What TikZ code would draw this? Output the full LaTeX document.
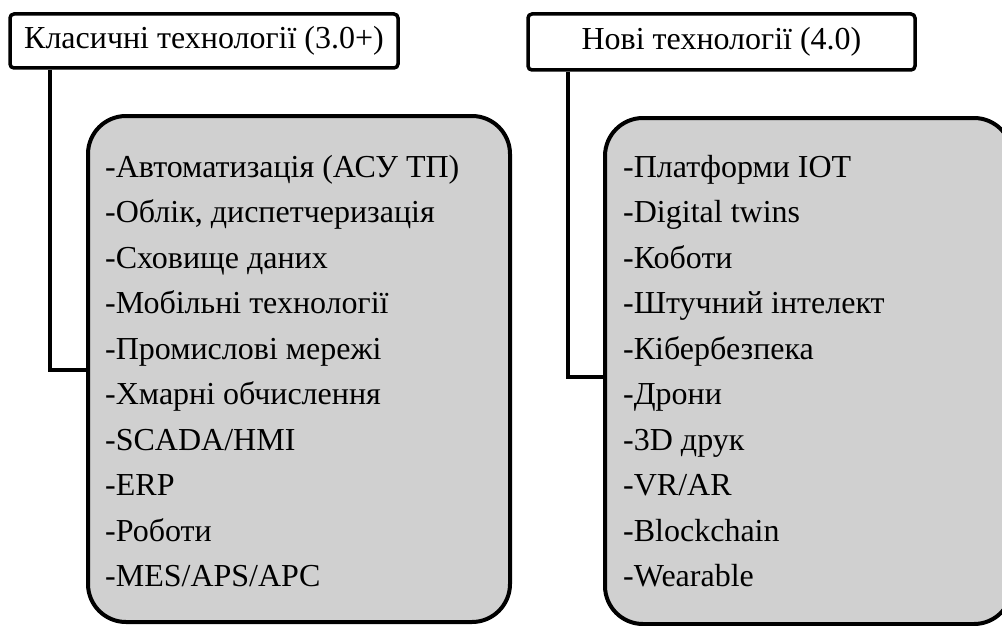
\documentclass[tikz,border=0pt]{standalone}
\usepackage{fontspec}
\setmainfont{Liberation Serif}
\definecolor{boxgray}{RGB}{208,208,208}
\begin{document}
\begin{tikzpicture}[x=1pt, y=-1pt,
    head/.style={draw, line width=3.5pt, rounded corners=4pt, fill=white,
      inner sep=0pt, font=\fontsize{32}{38}\selectfont},
    techbox/.style={draw, line width=4pt, rounded corners=38pt, fill=boxgray,
      inner sep=0pt},
    techlist/.style={anchor=north west, inner sep=0pt, align=left,
      font=\fontsize{32}{45.5}\selectfont},
    link/.style={line width=4pt}
  ]
  \useasboundingbox (0,0) rectangle (1002,626);

  % headers
  \node[head, minimum width=388pt, minimum height=54pt] (lhead) at (204,41)
    {Класичні технології (3.0+)};
  \node[head, minimum width=387pt, minimum height=56pt] (rhead) at (721.5,42)
    {Нові технології (4.0)};

  % grey boxes
  \node[techbox, minimum width=422pt, minimum height=506pt] (lbox) at (299,369) {};
  \node[techbox, minimum width=407pt, minimum height=506pt] (rbox) at (808.5,371) {};

  % lists
  \node[techlist] (llist) at (105,155) {-Автоматизація (АСУ ТП)\\
    -Облік, диспетчеризація\\
    -Сховище даних\\
    -Мобільні технології\\
    -Промислові мережі\\
    -Хмарні обчислення\\
    -SCADA/HMI\\
    -ERP\\
    -Роботи\\
    -MES/APS/APC};
  \node[techlist] (rlist) at (623,155) {-Платформи ІОТ\\
    -Digital twins\\
    -Коботи\\
    -Штучний інтелект\\
    -Кібербезпека\\
    -Дрони\\
    -3D друк\\
    -VR/AR\\
    -Blockchain\\
    -Wearable};

  % links from headers to boxes
  \coordinate (lbend) at (50,370);
  \coordinate (rbend) at (568,377);
  \draw[link] (lhead.south -| lbend) |- (lbox.west |- lbend);
  \draw[link] (rhead.south -| rbend) |- (rbox.west |- rbend);
\end{tikzpicture}
\end{document}
